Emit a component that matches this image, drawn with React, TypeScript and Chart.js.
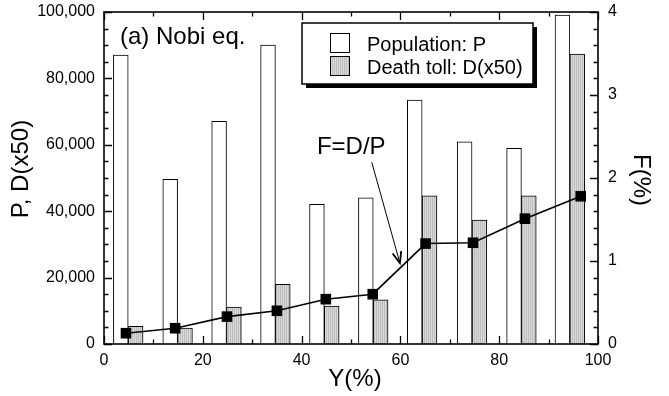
import React, { useEffect, useRef } from 'react';
import { Chart, registerables } from 'chart.js';

Chart.register(...registerables);

// Data
const binCenters = [4.9, 14.9, 24.8, 34.7, 44.6, 54.5, 64.4, 74.5, 84.5, 94.3];
const population = [87000, 49600, 67100, 90000, 42100, 44000, 73500, 60900, 58900, 99100];
const deathTollX50 = [5300, 4800, 11100, 18000, 11400, 13300, 44600, 37300, 44600, 87300];
const ratioX = [4.45, 14.4, 24.9, 35, 44.9, 54.4, 65.1, 74.7, 85.2, 96.5];
const ratioF = [0.13, 0.19, 0.33, 0.4, 0.54, 0.6, 1.21, 1.22, 1.51, 1.78];

const FONT = "'Liberation Sans', Arial, Helvetica, sans-serif";

function makeHatch(ctx: CanvasRenderingContext2D): CanvasPattern | string {
  const c = document.createElement('canvas');
  c.width = 2;
  c.height = 2;
  const g = c.getContext('2d');
  if (!g) return '#c8c8c8';
  g.fillStyle = '#d9d9d9';
  g.fillRect(0, 0, 2, 2);
  g.fillStyle = '#bdbdbd';
  g.fillRect(0, 0, 1, 2);
  return ctx.createPattern(c, 'repeat') || '#c8c8c8';
}

const decorPlugin = {
  id: 'decor',
  afterDraw(chart: any) {
    const { ctx, chartArea: a, scales } = chart;
    const sx = scales.x;
    const sy = scales.y;
    const sf = scales.y1;
    ctx.save();
    ctx.strokeStyle = '#000';
    ctx.fillStyle = '#000';

    // inner tick marks
    ctx.lineWidth = 1.3;
    const major = 8;
    const minor = 4.5;
    ctx.beginPath();
    for (let i = 0; i <= 10; i++) {
      const v = i * 10;
      const px = Math.round(sx.getPixelForValue(v)) + 0.5;
      const len = i % 2 === 0 ? major : minor;
      ctx.moveTo(px, a.bottom);
      ctx.lineTo(px, a.bottom - len);
      ctx.moveTo(px, a.top);
      ctx.lineTo(px, a.top + len);
    }
    for (let i = 0; i <= 20; i++) {
      const v = i * 5000;
      const py = Math.round(sy.getPixelForValue(v)) + 0.5;
      const len = i % 4 === 0 ? major : minor;
      ctx.moveTo(a.left, py);
      ctx.lineTo(a.left + len, py);
    }
    for (let i = 0; i <= 20; i++) {
      const v = i * 0.2;
      const py = Math.round(sf.getPixelForValue(v)) + 0.5;
      const len = i % 5 === 0 ? major : minor;
      ctx.moveTo(a.right, py);
      ctx.lineTo(a.right - len, py);
    }
    ctx.stroke();

    // frame
    ctx.lineWidth = 1.6;
    ctx.strokeRect(a.left, a.top, a.right - a.left, a.bottom - a.top);

    // panel label
    ctx.font = `24px ${FONT}`;
    ctx.textBaseline = 'alphabetic';
    ctx.textAlign = 'left';
    ctx.fillText('(a) Nobi eq.', a.left + 16, 44);

    // annotation F=D/P with arrow
    ctx.fillText('F=D/P', sx.getPixelForValue(43.1), sf.getPixelForValue(2.29));
    const x0 = sx.getPixelForValue(54.2);
    const y0 = sf.getPixelForValue(2.19);
    const x1 = sx.getPixelForValue(59.9);
    const y1 = sf.getPixelForValue(0.975);
    ctx.lineWidth = 1;
    ctx.beginPath();
    ctx.moveTo(x0, y0);
    ctx.lineTo(x1, y1);
    ctx.stroke();
    const ang = Math.atan2(y1 - y0, x1 - x0);
    const hl = 12;
    const spread = 0.38;
    ctx.lineWidth = 1.8;
    ctx.beginPath();
    ctx.moveTo(x1 - hl * Math.cos(ang - spread), y1 - hl * Math.sin(ang - spread));
    ctx.lineTo(x1, y1);
    ctx.lineTo(x1 - hl * Math.cos(ang + spread), y1 - hl * Math.sin(ang + spread));
    ctx.stroke();

    // legend box with shadow
    const bx = 302, by = 23, bw = 231, bh = 61;
    ctx.fillRect(bx + 4, by + 4, bw, bh);
    ctx.fillStyle = '#fff';
    ctx.fillRect(bx, by, bw, bh);
    ctx.lineWidth = 1.5;
    ctx.strokeRect(bx, by, bw, bh);
    ctx.fillStyle = '#fff';
    ctx.fillRect(330, 33, 19, 19);
    ctx.lineWidth = 1;
    ctx.strokeRect(330.5, 33.5, 19, 19);
    ctx.fillStyle = (chart as any).$hatch || '#c8c8c8';
    ctx.fillRect(330, 56, 19, 19);
    ctx.strokeRect(330.5, 56.5, 19, 19);
    ctx.fillStyle = '#000';
    ctx.font = `20px ${FONT}`;
    ctx.fillText('Population: P', 367, 51);
    ctx.fillText('Death toll: D(x50)', 367, 74);

    // axis titles
    ctx.font = `24px ${FONT}`;
    ctx.textAlign = 'center';
    ctx.textBaseline = 'middle';
    ctx.fillText('Y(%)', 355, 379);
    ctx.save();
    ctx.translate(21, 169);
    ctx.rotate(-Math.PI / 2);
    ctx.fillText('P, D(x50)', 0, 0);
    ctx.restore();
    ctx.save();
    ctx.translate(641, 180);
    ctx.rotate(Math.PI / 2);
    ctx.fillText('F(%)', 0, 0);
    ctx.restore();

    ctx.restore();
  },
};

function fixVertical(width: number) {
  return (s: any) => {
    s.width = width;
    s.paddingTop = 0;
    s.paddingBottom = 0;
  };
}

export default function App() {
  const ref = useRef<HTMLCanvasElement | null>(null);

  useEffect(() => {
    document.body.style.margin = '0';
    const canvas = ref.current;
    if (!canvas) return;
    const ctx = canvas.getContext('2d');
    if (!ctx) return;
    const hatch = makeHatch(ctx);

    const chart = new Chart(ctx, {
      type: 'bar',
      data: {
        datasets: [
          {
            type: 'line',
            label: 'F=D/P',
            data: ratioX.map((x, i) => ({ x, y: ratioF[i] })),
            yAxisID: 'y1',
            xAxisID: 'x',
            borderColor: '#000',
            borderWidth: 1.6,
            pointStyle: 'rect',
            pointRadius: 7.5,
            pointBackgroundColor: '#000',
            pointBorderColor: '#000',
            pointBorderWidth: 0,
            order: 0,
          } as any,
          {
            label: 'Population: P',
            data: binCenters.map((x, i) => ({ x, y: population[i] })),
            yAxisID: 'y',
            backgroundColor: '#fff',
            borderColor: '#000',
            borderWidth: 1,
            barThickness: 14.8,
            order: 1,
          },
          {
            label: 'Death toll: D(x50)',
            data: binCenters.map((x, i) => ({ x, y: deathTollX50[i] })),
            yAxisID: 'y',
            backgroundColor: hatch as any,
            borderColor: '#000',
            borderWidth: 1,
            barThickness: 14.8,
            order: 1,
          },
        ],
      },
      options: {
        responsive: false,
        animation: false,
        devicePixelRatio: 1,
        layout: { padding: { top: 12, left: 0, right: 0, bottom: 0 } },
        plugins: {
          legend: { display: false },
          tooltip: { enabled: false },
        },
        scales: {
          x: {
            type: 'linear',
            min: 0,
            max: 100,
            offset: false,
            grid: { display: false, drawTicks: false },
            border: { display: false },
            ticks: {
              stepSize: 20,
              color: '#000',
              font: { family: FONT, size: 16 },
              padding: 7,
              maxRotation: 0,
            },
            afterFit: (s: any) => {
              s.height = 52;
              s.paddingLeft = 0;
              s.paddingRight = 0;
            },
          },
          y: {
            type: 'linear',
            position: 'left',
            min: 0,
            max: 100000,
            grid: { display: false, drawTicks: false },
            border: { display: false },
            ticks: {
              stepSize: 20000,
              color: '#000',
              font: { family: FONT, size: 16 },
              padding: 9,
              callback: (v: any) => Number(v).toLocaleString('en-US'),
            },
            afterFit: fixVertical(104),
          },
          y1: {
            type: 'linear',
            position: 'right',
            min: 0,
            max: 4,
            grid: { display: false, drawTicks: false },
            border: { display: false },
            ticks: {
              stepSize: 1,
              color: '#000',
              font: { family: FONT, size: 16 },
              padding: 10,
            },
            afterFit: fixVertical(71),
          },
        },
      },
      plugins: [decorPlugin],
    });
    (chart as any).$hatch = hatch;
    chart.draw();

    return () => {
      chart.destroy();
    };
  }, []);

  return (
    <div style={{ width: 669, height: 396 }}>
      <canvas ref={ref} width={669} height={396} style={{ display: 'block' }} />
    </div>
  );
}
